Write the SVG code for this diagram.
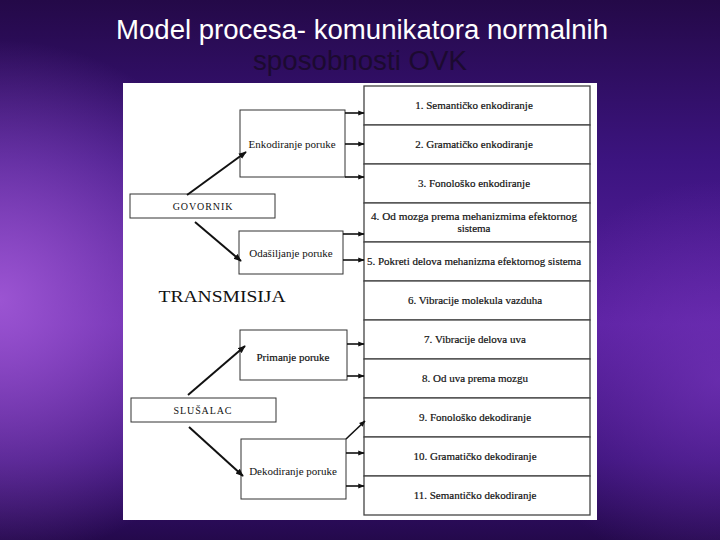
<svg xmlns="http://www.w3.org/2000/svg" width="720" height="540" viewBox="0 0 720 540">
  <defs>
    <linearGradient id="bg" x1="0" y1="0" x2="0" y2="1">
      <stop offset="0" stop-color="#240948"/>
      <stop offset="0.3" stop-color="#3c1480"/>
      <stop offset="0.6" stop-color="#5a20a0"/>
      <stop offset="0.85" stop-color="#3a1278"/>
      <stop offset="1" stop-color="#24094c"/>
    </linearGradient>
    <radialGradient id="glow" cx="0" cy="300" r="260" gradientUnits="userSpaceOnUse">
      <stop offset="0" stop-color="#a35ad8" stop-opacity="0.9"/>
      <stop offset="1" stop-color="#a35ad8" stop-opacity="0"/>
    </radialGradient>
    <radialGradient id="glow2" cx="720" cy="380" r="200" gradientUnits="userSpaceOnUse">
      <stop offset="0" stop-color="#7a38c0" stop-opacity="0.6"/>
      <stop offset="1" stop-color="#7a38c0" stop-opacity="0"/>
    </radialGradient>
    <marker id="ah" viewBox="0 0 10 10" refX="9" refY="5" markerWidth="4" markerHeight="4" orient="auto" markerUnits="strokeWidth">
      <path d="M0,1 L10,5 L0,9 z" fill="#111"/>
    </marker>
    <style>
      .box { fill: #fff; stroke: #333; stroke-width: 1; }
      .row { fill: #fff; stroke: #444; stroke-width: 1.3; }
      .t { font-family: 'Liberation Serif', 'Times New Roman', serif; font-size: 11px; fill: #111; text-anchor: middle; }
      .rt { font-family: 'Liberation Serif', 'Times New Roman', serif; font-size: 11px; fill: #111; text-anchor: middle; stroke: #111; stroke-width: 0.2; }
      .cap { font-size: 10px; letter-spacing: 0.9px; }
      .c { stroke: #111; stroke-width: 1.6; fill: none; marker-end: url(#ah); }
      .d { stroke: #111; stroke-width: 2; fill: none; marker-end: url(#ah); }
    </style>
  </defs>

  <rect x="0" y="0" width="720" height="540" fill="url(#bg)"/>
  <rect x="0" y="0" width="720" height="540" fill="url(#glow)"/>
  <rect x="0" y="0" width="720" height="540" fill="url(#glow2)"/>

  <g id="title">
    <text x="362" y="39" font-family="'Liberation Sans', Arial, sans-serif" font-size="27" fill="#ffffff" text-anchor="middle" textLength="492" lengthAdjust="spacingAndGlyphs">Model procesa- komunikatora normalnih</text>
    <text x="360" y="70" font-family="'Liberation Sans', Arial, sans-serif" font-size="27" fill="#1c0a30" text-anchor="middle" textLength="214" lengthAdjust="spacingAndGlyphs">sposobnosti OVK</text>
  </g>

  <rect x="123" y="83" width="474" height="437" fill="#ffffff"/>

  <g id="steps">
    <g id="s1"><rect class="row" x="364" y="86" width="226" height="39"/><text class="rt" x="474" y="109">1. Semantičko enkodiranje</text></g>
    <g id="s2"><rect class="row" x="364" y="125" width="226" height="39"/><text class="rt" x="474" y="148">2. Gramatičko enkodiranje</text></g>
    <g id="s3"><rect class="row" x="364" y="164" width="226" height="39"/><text class="rt" x="474" y="187">3. Fonološko enkodiranje</text></g>
    <g id="s4"><rect class="row" x="364" y="203" width="226" height="39"/><text class="rt" x="474" y="220" textLength="206" lengthAdjust="spacingAndGlyphs">4.  Od mozga prema mehanizmima efektornog</text><text class="rt" x="474" y="232">sistema</text></g>
    <g id="s5"><rect class="row" x="364" y="242" width="226" height="39"/><text class="rt" x="474" y="265" textLength="214" lengthAdjust="spacingAndGlyphs">5. Pokreti delova mehanizma efektornog sistema</text></g>
    <g id="s6"><rect class="row" x="364" y="281" width="226" height="39"/><text class="rt" x="475" y="304">6. Vibracije molekula vazduha</text></g>
    <g id="s7"><rect class="row" x="364" y="320" width="226" height="39"/><text class="rt" x="475" y="343">7. Vibracije delova uva</text></g>
    <g id="s8"><rect class="row" x="364" y="359" width="226" height="39"/><text class="rt" x="475" y="382">8. Od uva prema mozgu</text></g>
    <g id="s9"><rect class="row" x="364" y="398" width="226" height="39"/><text class="rt" x="475" y="421">9. Fonološko dekodiranje</text></g>
    <g id="s10"><rect class="row" x="364" y="437" width="226" height="39"/><text class="rt" x="475" y="460">10. Gramatičko dekodiranje</text></g>
    <g id="s11"><rect class="row" x="364" y="476" width="226" height="39"/><text class="rt" x="475" y="499">11. Semantičko dekodiranje</text></g>
  </g>

  <g id="enkodiranje"><rect class="box" x="240" y="110" width="105" height="67"/><text class="t" x="292" y="148">Enkodiranje poruke</text></g>
  <g id="govornik"><rect class="box" x="130" y="194" width="145" height="24"/><text class="t cap" x="203" y="210">GOVORNIK</text></g>
  <g id="odasiljanje"><rect class="box" x="239" y="231" width="104" height="43"/><text class="t" x="291" y="257">Odašiljanje poruke</text></g>
  <g id="transmisija"><text x="222" y="302" font-family="'Liberation Serif', 'Times New Roman', serif" font-size="17" fill="#111" text-anchor="middle" textLength="127" lengthAdjust="spacingAndGlyphs">TRANSMISIJA</text></g>
  <g id="primanje"><rect class="box" x="240" y="330" width="107" height="50"/><text class="t" x="293" y="361" stroke="#111" stroke-width="0.2">Primanje poruke</text></g>
  <g id="slusalac"><rect class="box" x="131" y="398" width="145" height="24"/><text class="t cap" x="203" y="414">SLUŠALAC</text></g>
  <g id="dekodiranje"><rect class="box" x="241" y="439" width="105" height="60"/><text class="t" x="293" y="475">Dekodiranje poruke</text></g>

  <g id="connectors">
    <line class="c" x1="345" y1="113" x2="364" y2="113"/>
    <line class="c" x1="345" y1="144" x2="364" y2="144"/>
    <line class="c" x1="345" y1="177" x2="364" y2="177"/>
    <line class="c" x1="343" y1="234" x2="364" y2="234"/>
    <line class="c" x1="343" y1="260" x2="364" y2="260"/>
    <line class="c" x1="347" y1="344" x2="364" y2="344"/>
    <line class="c" x1="347" y1="376" x2="364" y2="376"/>
    <line class="c" x1="346" y1="439" x2="365" y2="421"/>
    <line class="c" x1="346" y1="453" x2="364" y2="453"/>
    <line class="c" x1="346" y1="486" x2="364" y2="486"/>
    <line class="d" x1="187" y1="195" x2="246" y2="152"/>
    <line class="d" x1="195" y1="222" x2="241" y2="261"/>
    <line class="d" x1="188" y1="395" x2="245" y2="346"/>
    <line class="d" x1="189" y1="427" x2="243" y2="476"/>
  </g>
</svg>
